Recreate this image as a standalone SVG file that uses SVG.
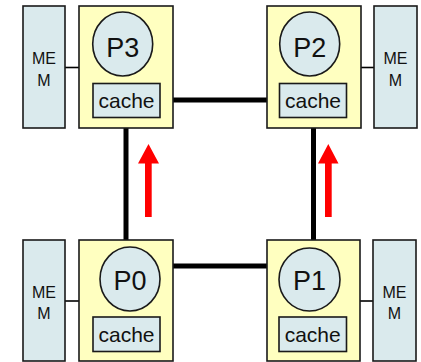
<svg xmlns="http://www.w3.org/2000/svg" width="421" height="362" viewBox="0 0 421 362">
<style>
.node{fill:#ffffc0;stroke:#1a1a1a;stroke-width:1.6}
.mem{fill:#daeaed;stroke:#1a1a1a;stroke-width:1.6}
.cpu{fill:#daeaed;stroke:#1a1a1a;stroke-width:1.6}
.cache{fill:#daeaed;stroke:#1a1a1a;stroke-width:1.6}
.bus{stroke:#000;stroke-width:5;fill:none}
.thin{stroke:#000;stroke-width:1.6;fill:none}
.arrow{fill:#ff0000}
text{font-family:"Liberation Sans",Arial,sans-serif;fill:#111;text-anchor:middle}
.p{font-size:27px}
.c{font-size:21px}
.m{font-size:16px}
</style>
<g id="connectors">
<line class="bus" x1="173" y1="100" x2="267" y2="100"/>
<line class="bus" x1="173" y1="266" x2="267" y2="266"/>
<line class="bus" x1="126" y1="128" x2="126" y2="240"/>
<line class="bus" x1="313.5" y1="128" x2="313.5" y2="240"/>
<line class="thin" x1="65" y1="67.5" x2="79" y2="67.5"/>
<line class="thin" x1="361" y1="67.5" x2="374" y2="67.5"/>
<line class="thin" x1="65" y1="301" x2="79" y2="301"/>
<line class="thin" x1="360" y1="301" x2="373" y2="301"/>
</g>
<g id="arrows">
<polygon class="arrow" points="148.5,144 159,163.5 151.7,163.5 151.7,217 145,217 145,163.5 138,163.5"/>
<polygon class="arrow" points="328.3,144 338.5,163.5 331.7,163.5 331.7,217 325,217 325,163.5 318,163.5"/>
</g>
<g id="mem3"><rect class="mem" x="23" y="6" width="42" height="122"/><text class="m" x="44" y="64">ME</text><text class="m" x="44" y="86">M</text></g>
<g id="mem2"><rect class="mem" x="374" y="6" width="43" height="122"/><text class="m" x="395.5" y="64">ME</text><text class="m" x="395.5" y="86">M</text></g>
<g id="mem0"><rect class="mem" x="23" y="240" width="42" height="121"/><text class="m" x="44" y="298">ME</text><text class="m" x="44" y="319">M</text></g>
<g id="mem1"><rect class="mem" x="373" y="240" width="43" height="121"/><text class="m" x="394.5" y="298">ME</text><text class="m" x="394.5" y="319">M</text></g>
<g id="P3">
<rect class="node" x="79" y="6" width="94" height="122"/>
<ellipse class="cpu" cx="122.7" cy="44" rx="30" ry="32"/>
<text class="p" x="122.7" y="57">P3</text>
<rect class="cache" x="93" y="83.5" width="67" height="34"/>
<text class="c" x="126.5" y="108">cache</text>
</g>
<g id="P2">
<rect class="node" x="267" y="6" width="94" height="122"/>
<ellipse class="cpu" cx="309.7" cy="44" rx="30" ry="32"/>
<text class="p" x="309.7" y="57">P2</text>
<rect class="cache" x="279.5" y="83.5" width="67" height="34"/>
<text class="c" x="313" y="108">cache</text>
</g>
<g id="P0">
<rect class="node" x="79" y="240" width="94" height="121"/>
<ellipse class="cpu" cx="130" cy="279" rx="30" ry="32"/>
<text class="p" x="130" y="290">P0</text>
<rect class="cache" x="93" y="317" width="67" height="34.5"/>
<text class="c" x="126.5" y="342">cache</text>
</g>
<g id="P1">
<rect class="node" x="267" y="240" width="93" height="121"/>
<ellipse class="cpu" cx="309.5" cy="279.5" rx="30.5" ry="31.5"/>
<text class="p" x="309.5" y="290">P1</text>
<rect class="cache" x="279" y="317" width="67.5" height="34.5"/>
<text class="c" x="312.7" y="342">cache</text>
</g>
</svg>
